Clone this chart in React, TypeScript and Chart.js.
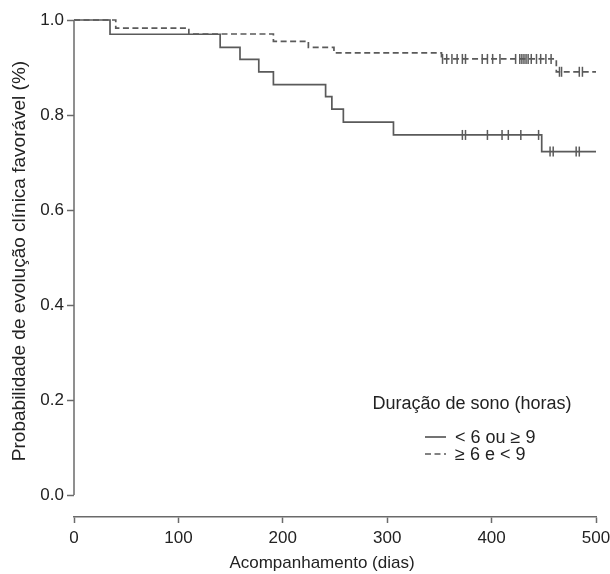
import React, { useEffect, useRef } from "react";
import { Chart, registerables } from "chart.js";

Chart.register(...registerables);

// Kaplan-Meier step data (time in days, probability)
const SOLID_TIMES = [0, 34.5, 140, 159, 177, 191, 241, 247, 258, 306, 448, 500];
const SOLID_SURV = [1.0, 0.970, 0.9425, 0.917, 0.891, 0.864, 0.8385, 0.8125, 0.785, 0.758, 0.723, 0.723];
const DASHED_TIMES = [0, 40, 110, 191, 224.5, 249, 352, 462, 500];
const DASHED_SURV = [1.0, 0.983, 0.9705, 0.955, 0.9425, 0.931, 0.918, 0.891, 0.891];

// censored observations (days)
const SOLID_CENSORED = [372, 375, 396, 410, 416, 428, 445, 456, 459, 481, 484];
const DASHED_CENSORED = [353, 357, 362, 367, 372, 375, 391, 396, 401, 408, 423, 427, 429, 431, 433, 435, 438, 443, 447, 452, 457, 465, 467, 484, 487];

const X_TICKS = [0, 100, 200, 300, 400, 500];
const Y_TICKS = [0, 0.2, 0.4, 0.6, 0.8, 1.0];

const SERIES_LABELS = ["< 6 ou \u2265 9", "\u2265 6 e < 9"];
const LEGEND_TITLE = "Duração de sono (horas)";
const X_TITLE = "Acompanhamento (dias)";
const Y_TITLE = "Probabilidade de evolução clínica favorável (%)";

const FONT = "'Liberation Sans', Arial, sans-serif";
const LINE_COLOR = "#5a5a5a";
const AXIS_COLOR = "#6a6a6a";
const TEXT_COLOR = "#222222";

function stepValue(times: number[], surv: number[], t: number): number {
  let v = surv[0];
  for (let i = 0; i < times.length; i++) {
    if (times[i] <= t) v = surv[i];
  }
  return v;
}

const decorPlugin = {
  id: "decor",
  afterDraw(chart: any) {
    const ctx = chart.ctx as CanvasRenderingContext2D;
    const y = chart.scales.y;
    ctx.save();
    // y axis line from 0 to 1
    ctx.strokeStyle = AXIS_COLOR;
    ctx.lineWidth = 1.5;
    ctx.beginPath();
    ctx.moveTo(chart.chartArea.left, y.getPixelForValue(0));
    ctx.lineTo(chart.chartArea.left, y.getPixelForValue(1));
    ctx.stroke();

    // axis titles
    ctx.fillStyle = TEXT_COLOR;
    ctx.font = `17px ${FONT}`;
    ctx.textAlign = "center";
    ctx.textBaseline = "middle";
    ctx.fillText(X_TITLE, 322, 563);
    ctx.save();
    ctx.translate(20, 261);
    ctx.rotate(-Math.PI / 2);
    ctx.font = `19px ${FONT}`;
    ctx.fillText(Y_TITLE, 0, 0);
    ctx.restore();

    // legend
    ctx.font = `18px ${FONT}`;
    ctx.textAlign = "center";
    ctx.fillText(LEGEND_TITLE, 472, 404);
    const ds = chart.data.datasets;
    const rows = [437, 454];
    for (let i = 0; i < 2; i++) {
      const d = ds[i];
      ctx.strokeStyle = d.borderColor;
      ctx.lineWidth = d.borderWidth;
      ctx.setLineDash(d.borderDash || []);
      ctx.beginPath();
      ctx.moveTo(425, rows[i]);
      ctx.lineTo(446, rows[i]);
      ctx.stroke();
      ctx.setLineDash([]);
      ctx.textAlign = "left";
      ctx.fillStyle = TEXT_COLOR;
      ctx.fillText(d.label, 455, rows[i] + 1);
    }
    ctx.restore();
  },
};

export default function App() {
  const ref = useRef<HTMLCanvasElement | null>(null);

  useEffect(() => {
    if (!ref.current) return;
    const solid = SOLID_TIMES.map((t, i) => ({ x: t, y: SOLID_SURV[i] }));
    const dashed = DASHED_TIMES.map((t, i) => ({ x: t, y: DASHED_SURV[i] }));
    const solidC = SOLID_CENSORED.map((t) => ({ x: t, y: stepValue(SOLID_TIMES, SOLID_SURV, t) }));
    const dashedC = DASHED_CENSORED.map((t) => ({ x: t, y: stepValue(DASHED_TIMES, DASHED_SURV, t) }));

    const chart = new Chart(ref.current, {
      type: "line",
      data: {
        datasets: [
          {
            label: SERIES_LABELS[0],
            data: solid,
            stepped: "before",
            borderColor: LINE_COLOR,
            borderWidth: 1.7,
            pointRadius: 0,
            fill: false,
            clip: false,
          } as any,
          {
            label: SERIES_LABELS[1],
            data: dashed,
            stepped: "before",
            borderColor: LINE_COLOR,
            borderWidth: 1.7,
            borderDash: [6, 3.5],
            pointRadius: 0,
            fill: false,
            clip: false,
          } as any,
          {
            type: "scatter",
            label: "c1",
            data: solidC,
            showLine: false,
            pointStyle: "line",
            rotation: 90,
            pointRadius: 5,
            pointBorderWidth: 1.5,
            borderColor: LINE_COLOR,
            backgroundColor: LINE_COLOR,
            clip: false,
          } as any,
          {
            type: "scatter",
            label: "c2",
            data: dashedC,
            showLine: false,
            pointStyle: "line",
            rotation: 90,
            pointRadius: 5,
            pointBorderWidth: 1.5,
            borderColor: LINE_COLOR,
            backgroundColor: LINE_COLOR,
            clip: false,
          } as any,
        ],
      },
      options: {
        animation: false,
        responsive: false,
        events: [],
        layout: { padding: { top: 20, right: 14, bottom: 0, left: 0 } },
        plugins: {
          legend: { display: false },
          tooltip: { enabled: false },
        },
        scales: {
          x: {
            type: "linear",
            min: 0,
            max: 500,
            afterBuildTicks: (s: any) => {
              s.ticks = X_TICKS.map((v) => ({ value: v }));
            },
            afterFit: (s: any) => {
              s.height = 57;
              s.paddingLeft = 0;
              s.paddingRight = 0;
            },
            grid: {
              drawOnChartArea: false,
              drawTicks: true,
              tickLength: 6,
              tickWidth: 1.5,
              tickColor: AXIS_COLOR,
              color: AXIS_COLOR,
            },
            border: { display: true, color: AXIS_COLOR, width: 1.5 },
            ticks: {
              color: TEXT_COLOR,
              font: { family: FONT, size: 17 },
              padding: 5,
              maxRotation: 0,
              callback: (v: any) => String(v),
            },
          },
          y: {
            type: "linear",
            min: -0.0463,
            max: 1.0,
            afterBuildTicks: (s: any) => {
              s.ticks = Y_TICKS.map((v) => ({ value: v }));
            },
            afterFit: (s: any) => {
              s.width = 74;
              s.paddingTop = 0;
              s.paddingBottom = 0;
            },
            grid: {
              drawOnChartArea: false,
              drawTicks: true,
              tickLength: 7,
              tickWidth: 1.5,
              tickColor: AXIS_COLOR,
              color: AXIS_COLOR,
            },
            border: { display: false },
            ticks: {
              color: TEXT_COLOR,
              font: { family: FONT, size: 17 },
              padding: 3,
              callback: (v: any) => Number(v).toFixed(1),
            },
          },
        },
      },
      plugins: [decorPlugin],
    });
    return () => chart.destroy();
  }, []);

  return (
    <div style={{ position: "fixed", left: 0, top: 0, width: 610, height: 574, background: "#fff" }}>
      <canvas ref={ref} width={610} height={574} style={{ display: "block" }} />
    </div>
  );
}
